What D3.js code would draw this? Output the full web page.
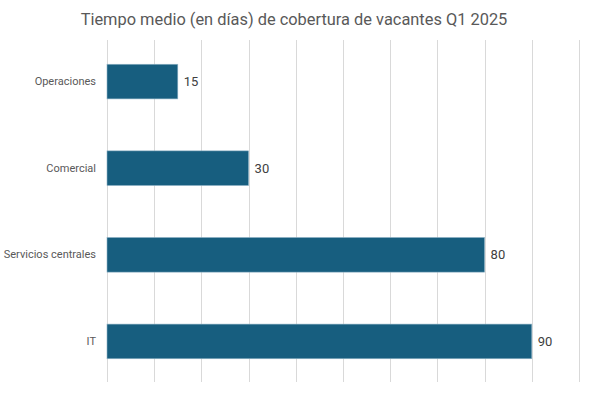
<!DOCTYPE html>
<html>
<head>
<meta charset="utf-8">
<script src="https://cdn.jsdelivr.net/npm/d3@7"></script>
<style>
  body { margin: 0; background: #fff; }
  svg { display: block; }
  .title { font-family: Roboto, sans-serif; font-size: 16.4px; fill: #595959; }
  .cat { font-family: Roboto, sans-serif; font-size: 11px; fill: #595959; }
  .val { font-family: Roboto, sans-serif; font-size: 13px; fill: #404040; }
</style>
</head>
<body>
<div id="chart"></div>
<script>
// Datos
const categories = ["Operaciones", "Comercial", "Servicios centrales", "IT"];
const values = [15, 30, 80, 90];
const gridTicks = [0, 10, 20, 30, 40, 50, 60, 70, 80, 90, 100];

const totalW = 590, totalH = 393;
const margin = { top: 40, right: 11, bottom: 8, left: 107 },
      width = totalW - margin.left - margin.right,
      height = totalH - margin.top - margin.bottom;

const svg = d3.select("#chart")
  .append("svg")
  .attr("width", totalW)
  .attr("height", totalH);

// Título
svg.append("text")
  .attr("class", "title")
  .attr("x", 294)
  .attr("y", 25)
  .attr("text-anchor", "middle")
  .text("Tiempo medio (en días) de cobertura de vacantes Q1 2025");

const g = svg.append("g")
  .attr("transform", `translate(${margin.left},${margin.top})`);

// Escalas
const xScale = d3.scaleLinear().domain([0, 100]).range([0, width]);
const yScale = d3.scaleBand()
  .domain(categories)
  .range([0, height - 2])
  .paddingInner(0.6)
  .paddingOuter(0.28);

// Líneas de cuadrícula
g.selectAll(".grid")
  .data(gridTicks)
  .enter()
  .append("line")
  .attr("x1", d => Math.round(xScale(d)) + 0.5)
  .attr("x2", d => Math.round(xScale(d)) + 0.5)
  .attr("y1", 0)
  .attr("y2", height - 3)
  .attr("stroke", "#d9d9d9")
  .attr("stroke-width", 1);

// Barras
const data = categories.map((c, i) => ({ cat: c, val: values[i] }));

g.selectAll(".bar")
  .data(data)
  .enter()
  .append("rect")
  .attr("x", 0)
  .attr("y", d => yScale(d.cat))
  .attr("width", d => xScale(d.val))
  .attr("height", yScale.bandwidth())
  .attr("fill", "#175e7f")
  .attr("stroke", "#8fb3c6")
  .attr("stroke-width", 0.6);

// Etiquetas de valores
g.selectAll(".val")
  .data(data)
  .enter()
  .append("text")
  .attr("class", "val")
  .attr("x", d => xScale(d.val) + 6)
  .attr("y", d => yScale(d.cat) + yScale.bandwidth() / 2)
  .attr("dy", "0.36em")
  .text(d => d.val);

// Eje de categorías (sin línea)
const yAxis = d3.axisLeft(yScale).tickSize(0).tickPadding(11);
const ya = g.append("g").call(yAxis);
ya.select(".domain").remove();
ya.selectAll("text").attr("class", "cat").attr("font-family", null).attr("font-size", null).attr("fill", null);
</script>
</body>
</html>
